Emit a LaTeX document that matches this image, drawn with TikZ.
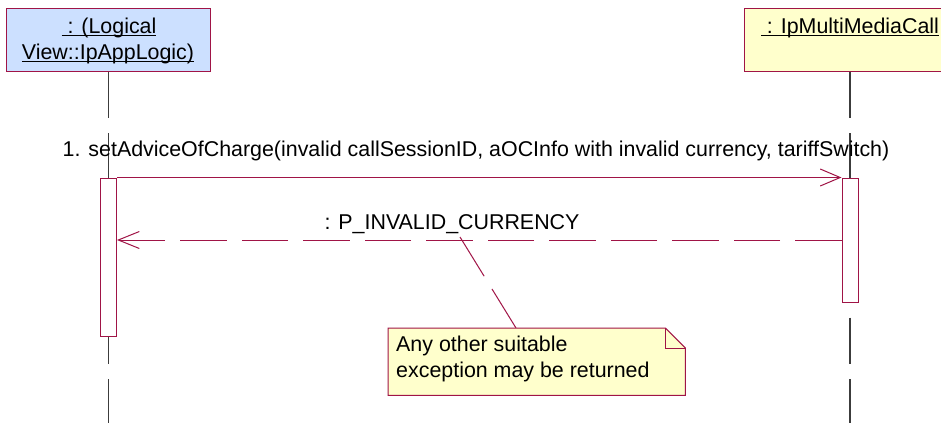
\documentclass[tikz,border=0pt]{standalone}
\usepackage{fontspec}
\setmainfont{Liberation Sans}
\usetikzlibrary{arrows.meta,calc}
\definecolor{umlline}{RGB}{160,20,70}
\definecolor{objblue}{RGB}{204,224,255}
\definecolor{notey}{RGB}{255,255,204}
\definecolor{lifegray}{RGB}{60,60,60}
\newcommand{\myul}[1]{\setbox0\hbox{#1}\rlap{\rule[-2.7pt]{\wd0}{0.9pt}}\box0}
\tikzset{
  objbox/.style={draw=umlline, line width=1pt, inner sep=0pt},
  lbl/.style={inner sep=0pt, text=black},
  life/.style={draw=lifegray, line width=1.1pt, dash pattern=on 46.5pt off 15pt},
  actbox/.style={draw=umlline, fill=white, line width=1pt, minimum width=16pt, inner sep=0pt},
  msg/.style={draw=umlline, line width=1pt, -{Straight Barb[length=20pt,width=17pt]}},
  retmsg/.style={draw=umlline, line width=1pt, dash pattern=on 46.5pt off 15pt, -{Straight Barb[length=21pt,width=17pt]}},
  notelink/.style={draw=umlline, line width=1pt, dash pattern=on 46pt off 15pt},
  noteline/.style={draw=umlline, line width=1pt, fill=notey}
}
\begin{document}
\begin{tikzpicture}[x=1pt,y=-1pt,font=\fontsize{21.4}{26.3}\selectfont]
\useasboundingbox (0,0) rectangle (941,423);
\clip (0,0) rectangle (941,423);
\fill[white] (0,0) rectangle (941,423);
% objects
\node[objbox, fill=objblue, minimum width=204pt, minimum height=63pt] (objL) at (108.5,39.5) {};
\node[objbox, fill=notey, minimum width=212pt, minimum height=63pt] (objR) at (850,39.5) {};
\node[lbl, anchor=base] (objLt1) at (109,33) {\myul{\ : (Logical}};
\node[lbl, anchor=base] (objLt2) at (108,59.3) {\myul{View::IpAppLogic)}};
\node[lbl, anchor=base] (objRt) at (850,33) {\myul{\ : IpMultiMediaCall}};
% lifelines
\coordinate (botL) at (108.5,423);
\coordinate (botR) at (850,423);
\draw[life] (objL.south) -- (botL);
\draw[life] (objR.south) -- (botR);
% activations
\node[actbox, minimum height=158pt] (actL) at (108.5,257) {};
\node[actbox, minimum height=124pt] (actR) at (850,240) {};
% messages
\draw[msg] (actL.north east) -- (actR.north west);
\node[lbl, anchor=base] (m1) at (476,156.7) {1. setAdviceOfCharge(invalid callSessionID, aOCInfo with invalid currency, tariffSwitch)};
\draw[retmsg] (actR.west) -- (actR.west -| actL.east);
\node[lbl, anchor=base] (r1) at (452,229.5) {: P\_INVALID\_CURRENCY};
% note
\node[inner sep=0pt, anchor=north west, minimum width=297pt, minimum height=67pt] (note) at (388,328) {};
\coordinate (nc) at (460,237);
\coordinate (nt) at ($(note.north west)+(128,0)$);
\draw[notelink] (nc) -- (nt);
\draw[noteline] (note.north west) -- ($(note.north east)+(-20,0)$) -- ($(note.north east)+(0,20)$) -- (note.south east) -- (note.south west) -- cycle;
\draw[draw=umlline, line width=1pt] ($(note.north east)+(-20,0)$) -- ($(note.north east)+(-20,20)$) -- ($(note.north east)+(0,20)$);
\node[lbl, anchor=base west] (n1) at (396,351.5) {Any other suitable};
\node[lbl, anchor=base west] (n2) at (396,377.5) {exception may be returned};
\end{tikzpicture}
\end{document}
